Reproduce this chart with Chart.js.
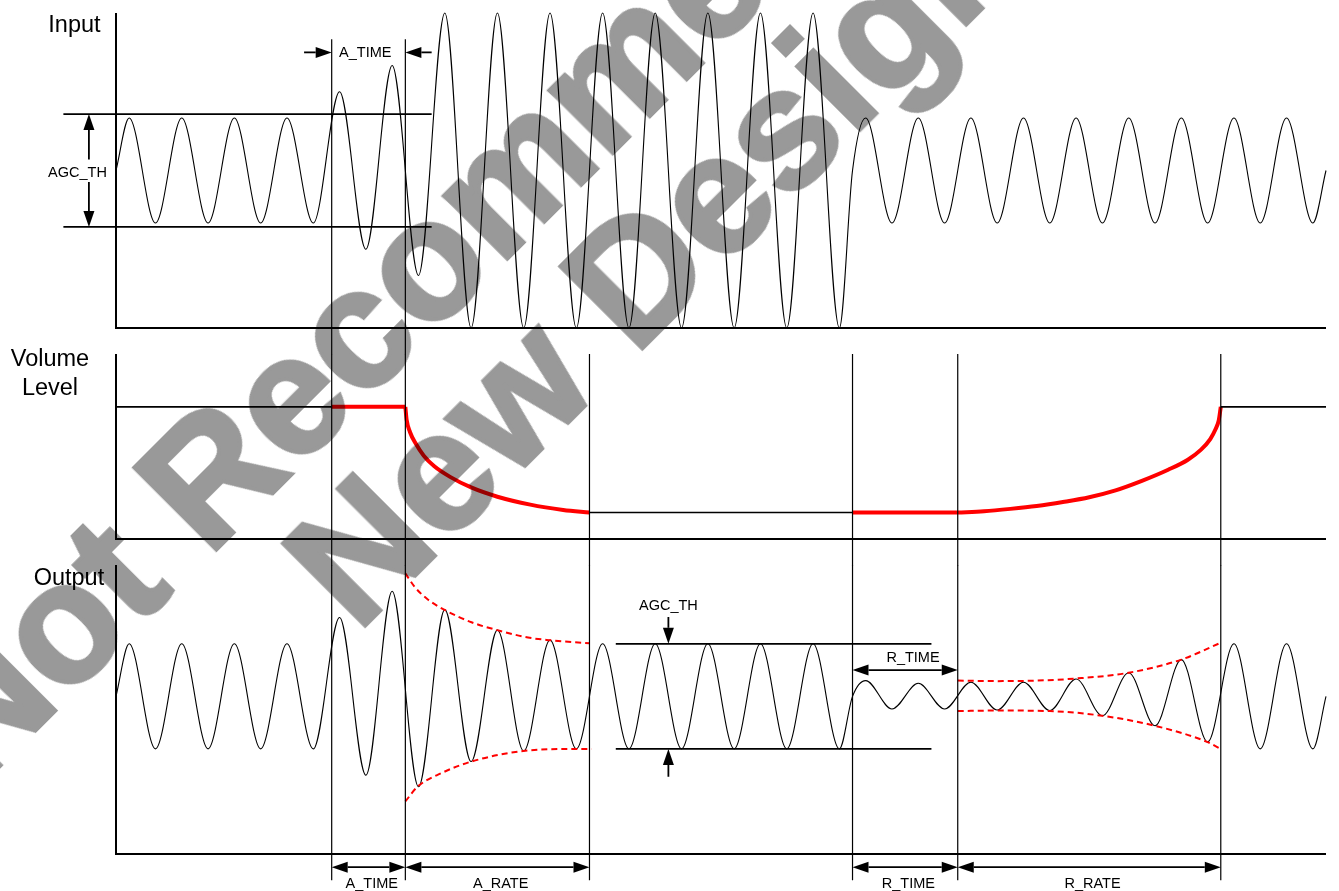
<!DOCTYPE html>
<html>
<head>
<meta charset="utf-8">
<title>AGC timing</title>
<script src="https://cdn.jsdelivr.net/npm/chart.js@4.4.0/dist/chart.umd.min.js"></script>
<style>
  html, body { margin: 0; padding: 0; background: #fff; }
  #wrap { position: relative; width: 1339px; height: 891px; overflow: hidden; background: #fff; }
  #wrap canvas { position: absolute; left: 0; top: 0; }
  #stamp {
    position: absolute; left: 630px; top: 167px;
    transform: translate(-50%, -50%) rotate(-45deg);
    font: bold 168px "Liberation Sans", Arial, sans-serif;
    line-height: 159px; color: #999999;
    -webkit-text-stroke: 4px #999999;
    mix-blend-mode: multiply;
    text-align: center; white-space: nowrap; pointer-events: none;
  }
</style>
</head>
<body>
<div id="wrap">
  <canvas id="inputChart" width="1339" height="891"></canvas>
  <canvas id="volumeChart" width="1339" height="891"></canvas>
  <canvas id="outputChart" width="1339" height="891"></canvas>
  <div id="stamp">Not Recommended for<br>New Designs</div>
</div>
<script>
// time in quarter periods of the test tone, level in units of the AGC threshold

// peaks / troughs of the tone (plus start, midline crossing at 56, end)
const extremaTimes = [0, 1, 3, 5, 7, 9, 11, 13, 15, 17, 19, 21, 23, 25, 27, 29, 31, 33, 35,
  37, 39, 41, 43, 45, 47, 49, 51, 53, 55, 56, 57, 59, 61, 63, 65, 67, 69, 71, 73, 75, 77,
  79, 81, 83, 85, 87, 89, 91, 92];
const inputLevels = [0, 1, -1, 1, -1, 1, -1, 1, -1, 1.5, -1.5, 2, -2, 3, -3, 3, -3, 3, -3,
  3, -3, 3, -3, 3, -3, 3, -3, 3, -3, 0, 1, -1, 1, -1, 1, -1, 1, -1, 1, -1, 1,
  -1, 1, -1, 1, -1, 1, -1, 0];
const outputLevels = [0, 1, -1, 1, -1, 1, -1, 1, -1, 1.5, -1.5, 2, -1.72, 1.65, -1.24, 1.26, -1.04, 1.07, -1,
  1, -1, 1, -1, 1, -1, 1, -1, 1, -1, 0, 0.3, -0.24, 0.25, -0.24, 0.27, -0.26, 0.27, -0.27, 0.33, -0.37, 0.45,
  -0.56, 0.7, -0.87, 1, -1, 1, -1, 0];

// event markers and phase names
const markerTimes = [16.4, 22, 36, 56, 64, 84];
const phaseNames = ['A_TIME', 'A_RATE', 'R_TIME', 'R_RATE'];
const phaseStarts = [16.4, 22, 56, 64];
const phaseEnds = [22, 36, 64, 84];

// AGC thresholds
const inputThreshold = 1.075;
const outputThreshold = 1.0;

// volume level (gain)
const gainIdleTimes = [0, 16.4], gainIdleLevels = [5, 5];
const gainHoldTimes = [16.4, 22], gainHoldLevels = [5, 5];
const gainAttackTimes = [22, 22.1, 22.35, 22.8, 23.4, 24.2, 25.4, 27, 29, 31.5, 34, 36];
const gainAttackLevels = [5, 4.5, 4.05, 3.6, 3.15, 2.75, 2.35, 1.95, 1.6, 1.3, 1.1, 1.0];
const gainSettledTimes = [36, 56], gainSettledLevels = [1, 1];
const gainWaitTimes = [56, 64], gainWaitLevels = [1, 1];
const gainReleaseTimes = [64, 66, 68, 70, 72, 74, 76, 78, 80, 81.5, 82.5, 83.2, 83.6, 83.85, 84];
const gainReleaseLevels = [1.0, 1.05, 1.14, 1.25, 1.4, 1.58, 1.84, 2.2, 2.62, 3.0, 3.38, 3.78, 4.15, 4.5, 5];
const gainRestoredTimes = [84, 92], gainRestoredLevels = [5, 5];

// output envelopes (red dashed)
const attackUpperTimes = [22, 22.72, 23.73, 24.95, 27.03, 29, 31.33, 32.93, 36];
const attackUpperLevels = [2.34, 2.08, 1.84, 1.65, 1.41, 1.26, 1.12, 1.07, 1.01];
const attackLowerTimes = [22, 22.92, 24.75, 27.03, 30.95, 35, 36.15];
const attackLowerLevels = [-2.0, -1.72, -1.46, -1.24, -1.04, -1.0, -1.0];
const releaseUpperTimes = [64, 67, 70, 73, 77, 81, 84];
const releaseUpperLevels = [0.30, 0.29, 0.30, 0.34, 0.45, 0.70, 1.02];
const releaseLowerTimes = [64, 67, 71, 75, 79, 83, 84];
const releaseLowerLevels = [-0.28, -0.27, -0.28, -0.37, -0.56, -0.87, -1.0];

const BLACK = '#000000';
const RED = '#ff0000';
const FONT = '"Liberation Sans", Arial, sans-serif';

function trace(times, levels, style) {
  return Object.assign({
    data: times.map((t, i) => ({ x: t, y: levels[i] })),
    borderColor: BLACK, borderWidth: 1.1, pointRadius: 0, clip: false,
    cubicInterpolationMode: 'monotone'
  }, style);
}

function rule(points, style) {
  return Object.assign({
    data: points.map(p => ({ x: p[0], y: p[1] })),
    borderColor: BLACK, borderWidth: 2, pointRadius: 0, clip: false, tension: 0
  }, style);
}

function drawHead(ctx, x1, y1, x2, y2) {
  const len = Math.hypot(x2 - x1, y2 - y1);
  const ux = (x2 - x1) / len, uy = (y2 - y1) / len;
  const bx = x2 - ux * 16, by = y2 - uy * 16;
  ctx.beginPath();
  ctx.moveTo(x2, y2);
  ctx.lineTo(bx - uy * 5.5, by + ux * 5.5);
  ctx.lineTo(bx + uy * 5.5, by - ux * 5.5);
  ctx.closePath();
  ctx.fill();
  return [bx, by];
}

// arrows and labels placed in data coordinates
const annotate = {
  id: 'annotate',
  afterDatasetsDraw(chart, args, opts) {
    const { ctx } = chart;
    const xs = chart.scales.x, ys = chart.scales.y;
    ctx.save();
    ctx.fillStyle = BLACK;
    ctx.strokeStyle = BLACK;
    ctx.lineWidth = 1.8;
    (opts.arrows || []).forEach(a => {
      const x1 = xs.getPixelForValue(a.from[0]), y1 = ys.getPixelForValue(a.from[1]);
      const x2 = xs.getPixelForValue(a.to[0]), y2 = ys.getPixelForValue(a.to[1]);
      const end = drawHead(ctx, x1, y1, x2, y2);
      const start = a.both ? drawHead(ctx, x2, y2, x1, y1) : [x1, y1];
      ctx.beginPath();
      ctx.moveTo(start[0], start[1]);
      ctx.lineTo(end[0], end[1]);
      ctx.stroke();
    });
    ctx.textAlign = 'center';
    ctx.textBaseline = 'alphabetic';
    (opts.texts || []).forEach(n => {
      ctx.font = n.size + 'px ' + FONT;
      ctx.fillText(n.text, xs.getPixelForValue(n.t), ys.getPixelForValue(n.v));
    });
    ctx.restore();
  }
};

function makePanel(id, yMin, yMax, padTop, padBottom, datasets, notes) {
  return new Chart(document.getElementById(id), {
    type: 'line',
    data: { datasets },
    options: {
      responsive: false,
      animation: false,
      devicePixelRatio: 1,
      layout: { padding: { left: 116, right: 13, top: padTop, bottom: padBottom } },
      scales: {
        x: { type: 'linear', min: 0, max: 92, display: false },
        y: { type: 'linear', min: yMin, max: yMax, display: false }
      },
      plugins: { legend: { display: false }, tooltip: { enabled: false }, annotate: notes }
    },
    plugins: [annotate]
  });
}

// Input
makePanel('inputChart', -3, 3, 13, 563, [
  rule([[0, 3], [0, -3], [92, -3]]),
  rule([[-4, inputThreshold], [24, inputThreshold]], { borderWidth: 1.8 }),
  rule([[-4, -inputThreshold], [24, -inputThreshold]], { borderWidth: 1.8 }),
  ...markerTimes.slice(0, 2).map(t => rule([[t, 2.5], [t, -3.5]], { borderWidth: 1.2 })),
  trace(extremaTimes, inputLevels)
], {
  arrows: [
    { from: [-2.06, 0.21], to: [-2.06, inputThreshold] },
    { from: [-2.06, -0.22], to: [-2.06, -inputThreshold] },
    { from: [14.3, 2.25], to: [markerTimes[0], 2.25] },
    { from: [24, 2.25], to: [markerTimes[1], 2.25] }
  ],
  texts: [
    { text: 'Input', t: -3.16, v: 2.63, size: 23.5 },
    { text: 'AGC_TH', t: -2.93, v: -0.12, size: 14.5 },
    { text: 'A_TIME', t: 18.95, v: 2.16, size: 14.5 }
  ]
});

// Volume Level
makePanel('volumeChart', 0, 7, 354, 352, [
  rule([[0, 7], [0, 0], [92, 0]]),
  ...markerTimes.map(t => rule([[t, 7], [t, -1]], { borderWidth: 1.2 })),
  trace(gainIdleTimes, gainIdleLevels, { borderWidth: 1.6 }),
  trace(gainSettledTimes, gainSettledLevels, { borderWidth: 1.6 }),
  trace(gainRestoredTimes, gainRestoredLevels, { borderWidth: 1.6 }),
  trace(gainHoldTimes, gainHoldLevels, { borderColor: RED, borderWidth: 4 }),
  trace(gainAttackTimes, gainAttackLevels, { borderColor: RED, borderWidth: 4 }),
  trace(gainWaitTimes, gainWaitLevels, { borderColor: RED, borderWidth: 4 }),
  trace(gainReleaseTimes, gainReleaseLevels, { borderColor: RED, borderWidth: 4 })
], {
  texts: [
    { text: 'Volume', t: -5.02, v: 6.55, size: 23.5 },
    { text: 'Level', t: -5.02, v: 5.45, size: 23.5 }
  ]
});

// Output
const dashed = { borderColor: RED, borderWidth: 2, borderDash: [6, 4] };
makePanel('outputChart', -3, 2.5, 565, 37, [
  rule([[0, 2.5], [0, -3], [92, -3]]),
  rule([[38, outputThreshold], [62, outputThreshold]], { borderWidth: 1.8 }),
  rule([[38, -outputThreshold], [62, -outputThreshold]], { borderWidth: 1.8 }),
  ...markerTimes.map(t => rule([[t, 2.5], [t, -3.5]], { borderWidth: 1.2 })),
  trace(attackUpperTimes, attackUpperLevels, dashed),
  trace(attackLowerTimes, attackLowerLevels, dashed),
  trace(releaseUpperTimes, releaseUpperLevels, dashed),
  trace(releaseLowerTimes, releaseLowerLevels, dashed),
  trace(extremaTimes, outputLevels)
], {
  arrows: [
    { from: [42, 1.51], to: [42, outputThreshold] },
    { from: [42, -1.53], to: [42, -outputThreshold] },
    { from: [markerTimes[3], 0.5], to: [markerTimes[4], 0.5], both: true },
    ...phaseNames.map((n, i) => ({ from: [phaseStarts[i], -3.25], to: [phaseEnds[i], -3.25], both: true }))
  ],
  texts: [
    { text: 'Output', t: -3.58, v: 2.12, size: 23.5 },
    { text: 'AGC_TH', t: 42, v: 1.64, size: 14.5 },
    { text: 'R_TIME', t: 60.6, v: 0.66, size: 14.5 },
    ...phaseNames.map((n, i) => ({ text: n, t: (phaseStarts[i] + phaseEnds[i]) / 2 + 0.25, v: -3.64, size: 14.5 }))
  ]
});
</script>
</body>
</html>
